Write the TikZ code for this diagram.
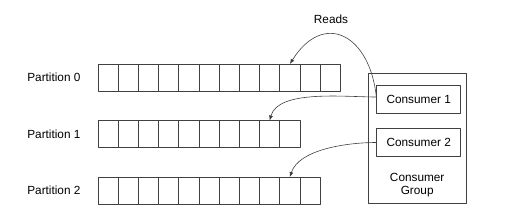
\documentclass[tikz,border=0pt]{standalone}
\usepackage{fontspec}
\setmainfont{Liberation Sans}
\usetikzlibrary{arrows.meta,positioning}

\begin{document}
\begin{tikzpicture}[x=1pt,y=-1pt,line cap=round,line join=round,
  font=\fontsize{11.8}{13.5}\selectfont,
  cell/.style={draw=black!75,line width=0.7pt,minimum width=20.2pt,minimum height=27pt,inner sep=0pt,outer sep=0pt},
  cbox/.style={draw=black!75,line width=0.7pt,minimum width=84pt,minimum height=28pt,inner sep=0pt},
  reads/.style={draw=black!75,line width=0.6pt,-{Latex[length=5pt,width=4pt]}}]
  \useasboundingbox (0,0) rectangle (519,215);
  \def\Xo{108.1}
  \def\Cw{20.2}
  % partitions
  \foreach \r/\y/\n in {0/77.5/12,1/134/10,2/190.5/11} {
    \foreach \i in {1,...,\n} {
      \node[cell] (p\r c\i) at ({\Xo+(\i-1)*\Cw},\y) {};
    }
    \node[left=14pt of p\r c1] (lab\r) {Partition \r};
  }
  % consumer group
  \node[draw=black!75,line width=0.7pt,minimum width=97.7pt,minimum height=130pt,inner sep=0pt] (group) at (417.2,138.3) {};
  \node[cbox] (c1) at (418.7,99.5) {Consumer 1};
  \node[cbox] (c2) at (418.7,142.5) {Consumer 2};
  \node[align=center,above=3pt of group.south,font=\fontsize{11.8}{13}\selectfont] (glab) {Consumer\\Group};
  \node (rlab) at (331,19) {Reads};
  % reads
  \draw[reads] ([yshift=2.5pt]c1.west) to[out=96,in=58,looseness=1.75] (p0c10.north);
  \draw[reads] ([yshift=2.5pt]c1.west) to[out=180,in=75,looseness=0.75] (p1c9.north);
  \draw[reads] (c2.west) to[out=180,in=72,looseness=0.8] (p2c10.north);
\end{tikzpicture}
\end{document}
